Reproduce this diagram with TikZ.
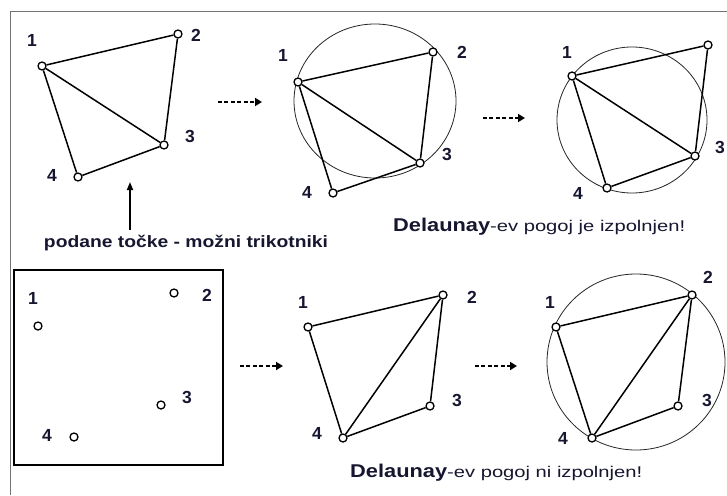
\documentclass[tikz,border=0pt]{standalone}
\usepackage{fontspec}
\setmainfont{Liberation Sans}
\usepackage{graphicx}
\usetikzlibrary{arrows.meta}
\definecolor{ink}{RGB}{22,22,48}
\pgfdeclarelayer{bg}
\pgfsetlayers{bg,main}
\tikzset{
  pt/.style={circle, draw=black, fill=white, line width=1.3pt, inner sep=0pt, minimum size=8pt},
  lnk/.style={line width=1.5pt, black},
  cc/.style={line width=0.8pt, black!85},
  lbl/.style={font=\bfseries\fontsize{17.5}{17.5}\selectfont, text=ink, inner sep=0pt},
  captxt/.style={text=ink, inner sep=0pt, anchor=base west},
  darr/.style={line width=2.8pt, dash pattern=on 4pt off 2.4pt, -{Triangle[length=7pt,width=8pt]}},
  uparr/.style={line width=1.7pt, -{Triangle[length=8pt,width=6pt]}},
}
\newcommand{\delA}{\resizebox{97pt}{\height}{\bfseries\fontsize{18.5}{18.5}\selectfont Delaunay}}
\newcommand{\restA}[1]{\resizebox{195pt}{\height}{\fontsize{15.5}{15.5}\selectfont #1}}
\begin{document}
\begin{tikzpicture}[x=1pt,y=-1pt]
\useasboundingbox (0,0) rectangle (727,495);
\begin{pgfonlayer}{bg}
\fill[white] (0,0) rectangle (727,495);
\end{pgfonlayer}
\draw[black!55, line width=0.9pt] (727,11) -- (10,11) -- (10,495);

% ---------- panel A (top-left)
\node[pt] (a1) at (42,66) {};
\node[pt] (a2) at (178,34) {};
\node[pt] (a3) at (164,145) {};
\node[pt] (a4) at (78,177) {};
\node[lbl] (la1) at (32,40) {1};
\node[lbl] (la2) at (196,35) {2};
\node[lbl] (la3) at (190,136) {3};
\node[lbl] (la4) at (52,175) {4};
\begin{pgfonlayer}{bg}
\draw[lnk] (a1) -- (a2) -- (a3) -- (a4) -- (a1) -- (a3);
\end{pgfonlayer}
\node[text=ink, inner sep=0pt] (tp) at (186,243) {\resizebox{284pt}{\height}{\bfseries\fontsize{16.5}{16.5}\selectfont podane točke - možni trikotniki}};
\coordinate (upa) at (130,230);
\coordinate (upb) at (130,182);
\draw[uparr] (upa) -- (upb);

% ---------- arrows
\coordinate (d1a) at (218,102); \coordinate (d1b) at (262,102);
\coordinate (d2a) at (483,118); \coordinate (d2b) at (525,118);
\coordinate (d3a) at (240,366); \coordinate (d3b) at (283,366);
\coordinate (d4a) at (475,366); \coordinate (d4b) at (517,366);
\draw[darr] (d1a) -- (d1b);
\draw[darr] (d2a) -- (d2b);
\draw[darr] (d3a) -- (d3b);
\draw[darr] (d4a) -- (d4b);

% ---------- panel B (top-middle)
\node[pt] (b1) at (298,82) {};
\node[pt] (b2) at (433,52) {};
\node[pt] (b3) at (420,163) {};
\node[pt] (b4) at (333,193) {};
\node[lbl] (lb1) at (283,55) {1};
\node[lbl] (lb2) at (462,52) {2};
\node[lbl] (lb3) at (447,154) {3};
\node[lbl] (lb4) at (307,192) {4};
\begin{pgfonlayer}{bg}
\draw[cc] (375,101) ellipse [x radius=81pt, y radius=77pt];
\draw[lnk] (b1) -- (b2) -- (b3) -- (b4) -- (b1) -- (b3);
\end{pgfonlayer}

% ---------- panel C (top-right)
\node[pt] (c1) at (572,76) {};
\node[pt] (c2) at (708,45) {};
\node[pt] (c3) at (695,156) {};
\node[pt] (c4) at (607,188) {};
\node[lbl] (lc1) at (567,52) {1};
\node[lbl] (lc3) at (720,147) {3};
\node[lbl] (lc4) at (578,193) {4};
\begin{pgfonlayer}{bg}
\draw[cc] (632,120) ellipse [x radius=75pt, y radius=73pt];
\draw[lnk] (c1) -- (c2) -- (c3) -- (c4) -- (c1) -- (c3);
\end{pgfonlayer}
\node[captxt] (tc) at (393,231) {\delA\restA{-ev pogoj je izpolnjen!}};

% ---------- panel D (bottom-left box)
\draw[line width=2.4pt] (14,270) rectangle (223,465);
\node[pt] (d1) at (38,326) {};
\node[pt] (d2) at (174,293) {};
\node[pt] (d3) at (161,405) {};
\node[pt] (d4) at (74,437) {};
\node[lbl] (ld1) at (33,298) {1};
\node[lbl] (ld2) at (207,295) {2};
\node[lbl] (ld3) at (187,397) {3};
\node[lbl] (ld4) at (47,435) {4};

% ---------- panel E (bottom-middle)
\node[pt] (e1) at (308,327) {};
\node[pt] (e2) at (443,295) {};
\node[pt] (e3) at (430,406) {};
\node[pt] (e4) at (343,438) {};
\node[lbl] (le1) at (303,302) {1};
\node[lbl] (le2) at (472,297) {2};
\node[lbl] (le3) at (457,400) {3};
\node[lbl] (le4) at (317,433) {4};
\begin{pgfonlayer}{bg}
\draw[lnk] (e1) -- (e2) -- (e3) -- (e4) -- (e1);
\draw[lnk] (e2) -- (e4);
\end{pgfonlayer}

% ---------- panel F (bottom-right)
\node[pt] (f1) at (556,327) {};
\node[pt] (f2) at (692,295) {};
\node[pt] (f3) at (678,406) {};
\node[pt] (f4) at (592,438) {};
\node[lbl] (lf1) at (550,302) {1};
\node[lbl] (lf2) at (708,277) {2};
\node[lbl] (lf3) at (707,400) {3};
\node[lbl] (lf4) at (563,438) {4};
\begin{pgfonlayer}{bg}
\draw[cc] (636,362) ellipse [x radius=89pt, y radius=88pt];
\draw[lnk] (f1) -- (f2) -- (f3) -- (f4) -- (f1);
\draw[lnk] (f2) -- (f4);
\end{pgfonlayer}
\node[captxt] (te) at (350,477) {\delA\restA{-ev pogoj ni izpolnjen!}};
\end{tikzpicture}
\end{document}
